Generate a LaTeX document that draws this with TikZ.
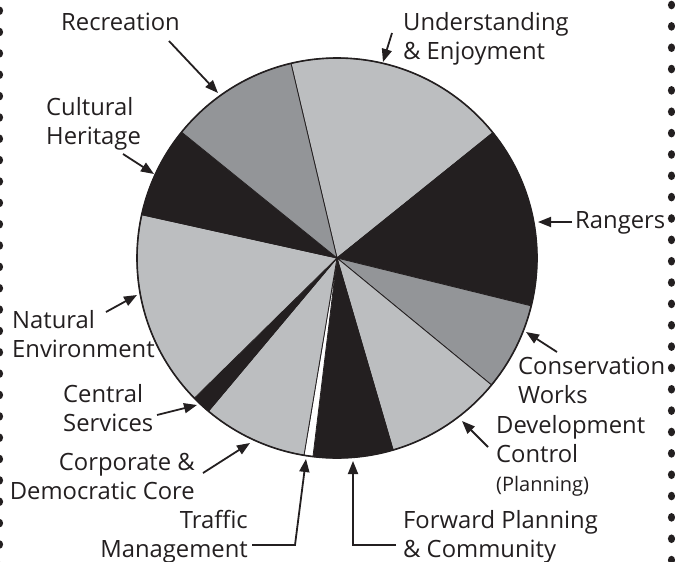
\documentclass[tikz,border=0pt]{standalone}
\usepackage{fontspec}
\setmainfont{Open Sans}
\usetikzlibrary{arrows.meta}
\definecolor{lightpie}{HTML}{BCBEC0}
\definecolor{midpie}{HTML}{939598}
\definecolor{darkpie}{HTML}{231F20}
\tikzset{
    caption/.style={font=\fontsize{23.8}{29}\selectfont,text=darkpie,inner sep=0pt},
    pointer/.style={-{Triangle[length=13pt,width=10pt]},line width=1.8pt,darkpie},
    slice/.style={draw=darkpie,line width=0.8pt},
    dot/.style={fill=darkpie}
}
\begin{document}
\begin{tikzpicture}[x=1pt,y=-1pt]
    \useasboundingbox (0,0) rectangle (675,562);

    % dotted page edges
    \foreach \k in {0,...,26} {
        \fill[dot] (-0.5,10.7+21.35*\k) ellipse[x radius=3.6,y radius=4.3];
        \fill[dot] (671.5,5+21.35*\k) ellipse[x radius=3.6,y radius=4.3];
    }

    % pie
    \coordinate (pie) at (337,258);
    \begin{scope}[shift={(pie)},y=1pt]
        \foreach \from/\to/\shade in {103.3/38.8/lightpie, 38.8/-13.85/darkpie,
                -13.85/-39.4/midpie, -39.4/-73.7/lightpie, -73.7/-96.9/darkpie,
                -96.9/-99.5/white, -99.5/-130/lightpie, -130/-135.5/darkpie,
                -135.5/-192.5/lightpie, -192.5/-219/darkpie, -219/-256.7/midpie}
            \filldraw[slice,fill=\shade] (0,0) -- (\from:200)
                arc[start angle=\from,end angle=\to,radius=200] -- cycle;
        \draw[line width=1.6pt,darkpie] (0,0) circle[radius=200];
    \end{scope}

    % labels
    \node[caption,anchor=west] (recreation) at (61,22) {Recreation};
    \node[caption,anchor=west,align=left] (heritage) at (46,124) {Cultural\\Heritage};
    \node[caption,anchor=west,align=left] (enjoyment) at (403,39) {Understanding\\\& Enjoyment};
    \node[caption,anchor=west] (rangers) at (575,223) {Rangers};
    \node[caption,anchor=west,align=left] (natural) at (12,334) {Natural\\Environment};
    \node[caption,anchor=west,align=left] (central) at (63,408) {Central\\Services};
    \node[caption,anchor=east,align=right] (corporate) at (195,476) {Corporate \&\\Democratic Core};
    \node[caption,anchor=east,align=right] (traffic) at (248,537) {Traffic\\Management};
    \node[caption,anchor=west,align=left] (forward) at (403,537) {Forward Planning\\\& Community};
    \node[caption,anchor=west,align=left] (conservation) at (518,380) {Conservation\\Works};
    \node[caption,anchor=west,align=left] (development) at (496,456)
        {Development\\Control\\{\fontsize{20}{24}\selectfont(Planning)}};

    % arrow ends
    \coordinate (recreation tail) at (169,41);
    \coordinate (recreation tip) at (218,93);
    \coordinate (heritage tail) at (123,154);
    \coordinate (heritage tip) at (154,174);
    \coordinate (enjoyment tail) at (392,33);
    \coordinate (enjoyment tip) at (383,62);
    \coordinate (rangers tail) at (572,222);
    \coordinate (rangers tip) at (538,222);
    \coordinate (natural tail) at (106,312);
    \coordinate (natural tip) at (137,295);
    \coordinate (central tail) at (157,415);
    \coordinate (central tip) at (197,405);
    \coordinate (corporate tail) at (203,473);
    \coordinate (corporate tip) at (250,443);
    \coordinate (traffic tail) at (252,545);
    \coordinate (traffic bend) at (295,545);
    \coordinate (traffic tip) at (306,459);
    \coordinate (forward tail) at (396,545);
    \coordinate (forward bend) at (353,545);
    \coordinate (forward tip) at (353,461);
    \coordinate (conservation tail) at (557,352);
    \coordinate (conservation tip) at (526,332);
    \coordinate (development tail) at (488,447);
    \coordinate (development tip) at (462,421);

    % pointers
    \draw[pointer] (recreation tail) -- (recreation tip);
    \draw[pointer] (heritage tail) -- (heritage tip);
    \draw[pointer] (enjoyment tail) -- (enjoyment tip);
    \draw[pointer] (rangers tail) -- (rangers tip);
    \draw[pointer] (natural tail) -- (natural tip);
    \draw[pointer] (central tail) -- (central tip);
    \draw[pointer] (corporate tail) -- (corporate tip);
    \draw[pointer] (traffic tail) -- (traffic bend) -- (traffic tip);
    \draw[pointer] (forward tail) -- (forward bend) -- (forward tip);
    \draw[pointer] (conservation tail) -- (conservation tip);
    \draw[pointer] (development tail) -- (development tip);

\end{tikzpicture}
\end{document}
